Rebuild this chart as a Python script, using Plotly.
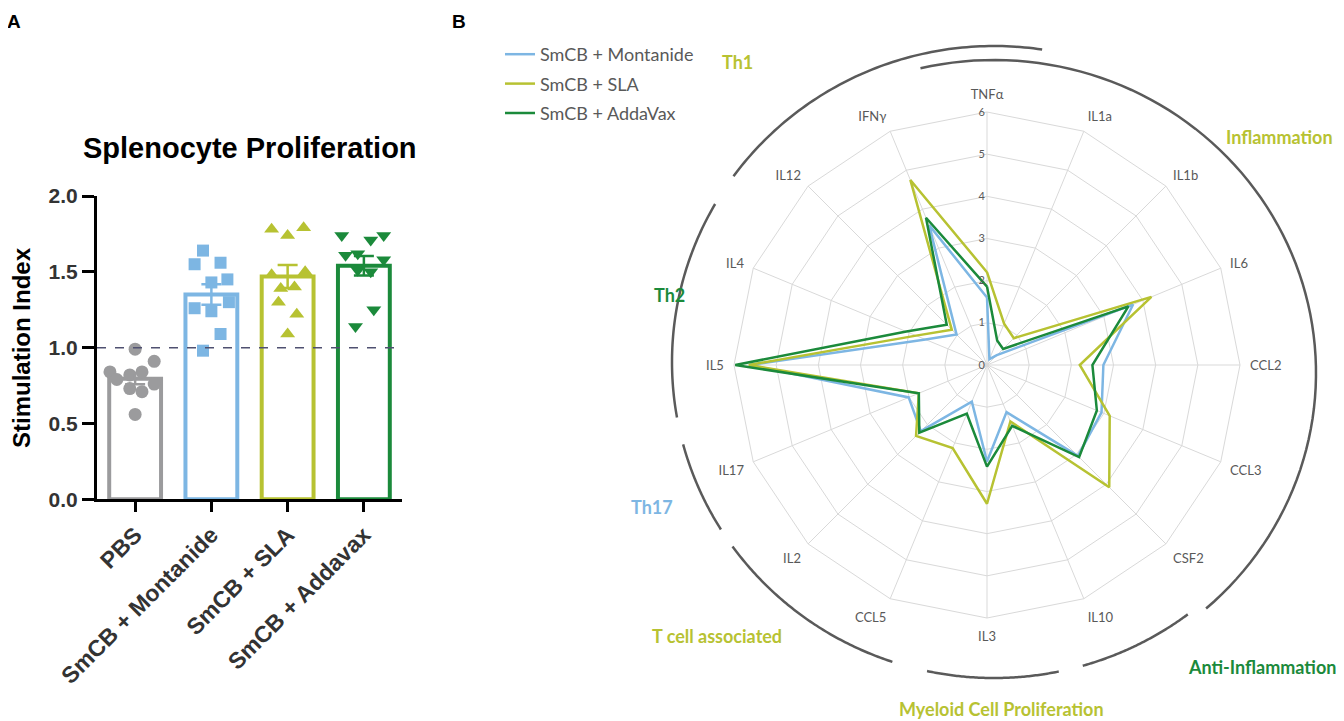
import numpy as np
import plotly.graph_objects as go

# ---------------- Panel A data ----------------
groups = ["PBS", "SmCB + Montanide", "SmCB + SLA", "SmCB + Addavax"]
pbs = [0.99, 0.84, 0.91, 0.79, 0.82, 0.84, 0.76, 0.73, 0.71, 0.56]
montanide = [1.64, 1.55, 1.56, 1.45, 1.43, 1.30, 1.26, 1.24, 1.09, 0.98]
sla = [1.78, 1.79, 1.74, 1.50, 1.48, 1.39, 1.40, 1.30, 1.22, 1.09]
addavax = [1.74, 1.74, 1.71, 1.61, 1.62, 1.58, 1.51, 1.50, 1.25, 1.14]
stars = ["", "*", "***", "***"]
y_ticks = [0.0, 0.5, 1.0, 1.5, 2.0]

# ---------------- Panel B data ----------------
cytokines = ["TNFα", "IL1a", "IL1b", "IL6", "CCL2", "CCL3", "CSF2", "IL10",
             "IL3", "CCL5", "IL2", "IL17", "IL5", "IL4", "IL12", "IFNγ"]
radar_montanide = [1.60, 0.15, 0.33, 3.75, 2.76, 2.94, 3.05, 1.21,
                   2.29, 0.94, 2.22, 2.01, 5.62, 1.58, 1.02, 3.59]
radar_sla = [2.20, 1.06, 0.90, 4.22, 2.20, 3.15, 4.10, 1.45,
             3.29, 2.13, 2.38, 1.75, 5.65, 1.82, 1.18, 4.75]
radar_addavax = [1.86, 0.63, 0.54, 3.63, 2.50, 2.82, 3.09, 1.56,
                 2.41, 1.25, 2.27, 1.75, 5.97, 2.07, 1.35, 3.78]
radar_names = ["SmCB + Montanide", "SmCB + SLA", "SmCB + AddaVax"]
radial_ticks = [0, 1, 2, 3, 4, 5, 6]

# page has an 8px body margin: build the figure 8px smaller and map page pixels
OFF = 8
W, H = 1344 - OFF, 721 - OFF


def fx(x):
    return (x - OFF) / W


def fy(y):
    return 1 - (y - OFF) / H


GRAY = "#9b9b9d"
BLUE = "#7db6e3"
YEL = "#b7c232"
GRN = "#1b8a3b"
colors = [GRAY, BLUE, YEL, GRN]
symbols = ["circle", "square", "triangle-up", "triangle-down"]
offsets = [
    [0, -0.33, 0.25, -0.24, -0.07, 0.09, 0.25, -0.07, 0.09, 0.0],
    [-0.11, -0.22, 0.12, 0.21, 0.0, 0.23, -0.22, 0.0, 0.12, -0.11],
    [-0.21, 0.21, 0.0, 0.23, -0.21, -0.09, 0.09, -0.12, 0.12, 0.0],
    [-0.29, 0.26, 0.09, -0.24, -0.08, 0.26, -0.08, 0.09, 0.13, -0.11],
]
data_sets = [pbs, montanide, sla, addavax]
means = [float(np.mean(d)) for d in data_sets]
sems = [float(np.std(d, ddof=1) / np.sqrt(len(d))) for d in data_sets]

fig = go.Figure()
AF = "Liberation Sans, Arial, sans-serif"
LF = "Lato, Noto Sans, sans-serif"

# bars
fig.add_trace(go.Bar(
    x=list(range(4)), y=means, width=0.68,
    marker=dict(color="white", line=dict(color=colors, width=4)),
    showlegend=False, hoverinfo="skip", xaxis="x", yaxis="y"))
# points
for i, d in enumerate(data_sets):
    fig.add_trace(go.Scatter(
        x=[i + o for o in offsets[i]], y=d, mode="markers",
        marker=dict(symbol=symbols[i], size=13 if i != 1 else 12,
                    color=colors[i], line=dict(width=0)),
        showlegend=False, xaxis="x", yaxis="y", cliponaxis=False))
# error bars
for i in range(4):
    fig.add_trace(go.Scatter(
        x=[i], y=[means[i]], mode="markers",
        marker=dict(size=1, color="rgba(0,0,0,0)"),
        error_y=dict(type="data", array=[sems[i]], color=colors[i], thickness=2.5, width=10),
        showlegend=False, xaxis="x", yaxis="y"))

# ---------------- Panel B traces ----------------
radar_colors = [BLUE, YEL, GRN]
for name, vals, c in zip(radar_names, [radar_montanide, radar_sla, radar_addavax], radar_colors):
    fig.add_trace(go.Scatterpolar(
        r=vals + [vals[0]], theta=cytokines + [cytokines[0]], mode="lines",
        line=dict(color=c, width=2.5), name=name, legendgroup=name, subplot="polar"))

cx, cy, R = 987, 365, 253
fig.update_layout(
    width=W, height=H, paper_bgcolor="white", plot_bgcolor="white",
    margin=dict(l=0, r=0, t=0, b=0, autoexpand=False),
    xaxis=dict(domain=[fx(97), fx(402)], range=[-0.5, 3.5],
               tickvals=list(range(4)), ticktext=["<b>%s</b>" % g for g in groups],
               tickangle=-45, tickfont=dict(family=AF, size=23, color="#333333"),
               showline=True, linecolor="black", linewidth=3, ticks="outside",
               ticklen=10, tickwidth=3, tickcolor="black", showgrid=False, zeroline=False,
               fixedrange=True, automargin=False),
    yaxis=dict(domain=[fy(499.3), fy(196)], range=[0, 2.0],
               tickvals=y_ticks, ticktext=["<b>%.1f</b>" % v for v in y_ticks],
               tickfont=dict(family=AF, size=21, color="#333333"),
               showline=True, linecolor="black", linewidth=3, ticks="outside",
               ticklen=12, tickwidth=3, tickcolor="black", showgrid=False, zeroline=False,
               automargin=False),
    polar=dict(
        domain=dict(x=[fx(cx - R), fx(cx + R)], y=[fy(cy + R), fy(cy - R)]),
        bgcolor="white", gridshape="linear",
        angularaxis=dict(rotation=90, direction="clockwise", ticks="outside", ticklen=7,
                         tickcolor="rgba(0,0,0,0)",
                         tickfont=dict(family=LF, size=13, color="#595959"),
                         gridcolor="#d9d9d9", gridwidth=1, showline=True, linecolor="#d9d9d9", linewidth=1),
        radialaxis=dict(range=[0, 6], tickvals=radial_ticks, angle=90, tickangle=90,
                        side="counterclockwise", showline=False, ticks="",
                        tickfont=dict(family=LF, size=11, color="#595959"),
                        gridcolor="#d9d9d9", gridwidth=1),
    ),
    legend=dict(x=492 / W, y=1 - 28 / H, xanchor="left", yanchor="top",
                font=dict(family=LF, size=18, color="#595959"),
                bgcolor="rgba(0,0,0,0)", tracegroupgap=3),
)

# dashed reference line at 1.0
fig.add_shape(type="line", xref="x domain", yref="y", x0=0, x1=1, y0=1.0, y1=1.0,
              line=dict(color="#4f5070", width=1.5, dash="dash"), layer="above")

annotations = []
# stars
for i, s in enumerate(stars):
    if s:
        annotations.append(dict(x=i, y=2.07, xref="x", yref="y", text=s, showarrow=False,
                                font=dict(family=AF, size=24, color="#2c2c48"),
                                xanchor="center", yanchor="middle"))
# y title
annotations.append(dict(x=fx(21), y=fy(348), xref="paper", yref="paper",
                        text="<b>Stimulation Index</b>", textangle=-90, showarrow=False,
                        font=dict(family=AF, size=24, color="black"), xanchor="center", yanchor="middle"))
# panel A title
annotations.append(dict(x=fx(250), y=fy(148), xref="paper", yref="paper",
                        text="<b>Splenocyte Proliferation</b>", showarrow=False,
                        font=dict(family=AF, size=29, color="black"), xanchor="center", yanchor="middle"))
annotations.append(dict(x=fx(14), y=fy(21), xref="paper", yref="paper", text="<b>A</b>",
                        showarrow=False, font=dict(family=AF, size=19, color="black"),
                        xanchor="center", yanchor="middle"))
annotations.append(dict(x=fx(459), y=fy(21), xref="paper", yref="paper", text="<b>B</b>",
                        showarrow=False, font=dict(family=AF, size=19, color="black"),
                        xanchor="center", yanchor="middle"))

# group labels around radar
group_labels = [("Th1", 737, 62, YEL), ("Inflammation", 1279, 137, YEL), ("Th2", 669, 295, GRN),
                ("Th17", 652, 507, BLUE), ("T cell associated", 717, 636, YEL),
                ("Myeloid Cell Proliferation", 1001, 709, YEL), ("Anti-Inflammation", 1262, 667, GRN)]
for t, x, y, c in group_labels:
    annotations.append(dict(x=fx(x), y=fy(y), xref="paper", yref="paper", text="<b>%s</b>" % t,
                            showarrow=False, font=dict(family=LF, size=18, color=c),
                            xanchor="center", yanchor="middle"))
fig.update_layout(annotations=annotations)

# arcs around radar (decoration)
arcs = [(306, 368.6, 994, 362, 322, 316), (-13.2, 138.8, 994, 373, 322, 313),
        (143, 164, 994, 362, 322, 316), (168.4, 192, 994, 362, 322, 316),
        (198.4, 234.3, 994, 362, 322, 316), (238, 254.9, 994, 362, 322, 316),
        (259.9, 300, 994, 362, 322, 316)]
for a0, a1, ax, ay, rx, ry in arcs:
    a = np.radians(np.linspace(a0, a1, 80))
    px = ax + rx * np.sin(a)
    py = ay - ry * np.cos(a)
    path = "M " + " L ".join("%.5f %.5f" % (fx(x), fy(y)) for x, y in zip(px, py))
    fig.add_shape(type="path", xref="paper", yref="paper", path=path,
                  line=dict(color="#5a5a5a", width=2.5))

fig.write_html("out.html")
